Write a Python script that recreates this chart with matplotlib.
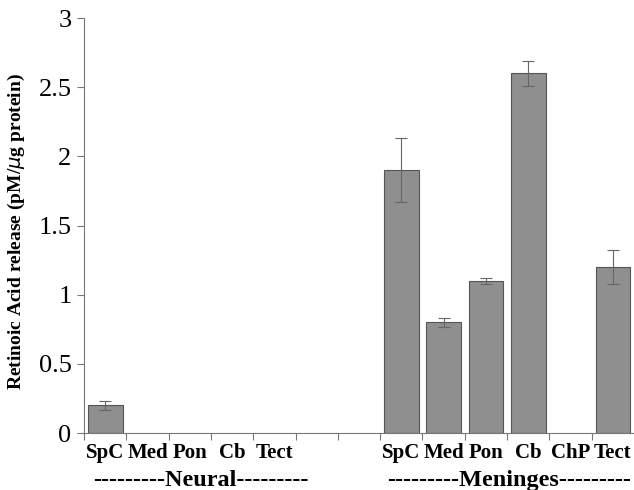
import numpy as np
import matplotlib.pyplot as plt
from matplotlib.transforms import blended_transform_factory

plt.rcParams['font.family'] = ['Liberation Serif', 'DejaVu Serif']

# slot positions 0..12 (5 and 6 are empty gap slots)
neural_cats = ['SpC', 'Med', 'Pon', 'Cb', 'Tect']
neural_vals = [0.2, 0, 0, 0, 0]
neural_err = [0.03, 0, 0, 0, 0]

men_cats = ['SpC', 'Med', 'Pon', 'Cb', 'ChP', 'Tect']
men_vals = [1.9, 0.8, 1.1, 2.6, 0, 1.2]
men_err = [0.23, 0.03, 0.02, 0.09, 0, 0.12]

neural_x = np.arange(len(neural_cats))
men_x = np.arange(len(men_cats)) + 7

fig = plt.figure(figsize=(6.34, 4.9), dpi=100)
ax = fig.add_axes([0.1325, 0.1163, 0.8675, 0.8467])

for xs, vals, errs in [(neural_x, neural_vals, neural_err), (men_x, men_vals, men_err)]:
    for x, v, e in zip(xs, vals, errs):
        if v == 0:
            continue
        ax.bar(x, v, width=0.82, color='#8f8f8f', edgecolor='#555555', linewidth=0.8)
        ax.errorbar(x, v, yerr=e, fmt='none', ecolor='#666666', elinewidth=0.8, capsize=4, capthick=0.8)

ax.set_xlim(-0.5, 12.5)
ax.set_ylim(0, 3)
ax.set_yticks([0, 0.5, 1, 1.5, 2, 2.5, 3])
ax.set_yticklabels(['0', '0.5', '1', '1.5', '2', '2.5', '3'])
ax.set_xticks(np.arange(-0.5, 12.5, 1))
ax.set_xticklabels([])
ax.tick_params(axis='y', labelsize=19, direction='out', length=5, color='#777777', pad=4)
ax.tick_params(axis='x', direction='out', length=5, color='#777777')
for s in ['top', 'right']:
    ax.spines[s].set_visible(False)
for s in ['left', 'bottom']:
    ax.spines[s].set_color('#777777')

ax.set_ylabel('Retinoic Acid release (pM/$\\mu$g protein)', fontsize=14, fontweight='bold')
ax.yaxis.set_label_coords(-0.103, 0.485)

tr = blended_transform_factory(ax.transData, fig.transFigure)
for x, c in zip(neural_x, neural_cats):
    ax.text(x, 0.076, c, ha='center', va='center', fontsize=15, fontweight='bold', transform=tr)
for x, c in zip(men_x, men_cats):
    ax.text(x, 0.076, c, ha='center', va='center', fontsize=15, fontweight='bold', transform=tr)

ax.text(2.27, 0.02, '---------Neural---------', ha='center', va='center', fontsize=17.5,
        fontweight='bold', transform=tr)
ax.text(9.55, 0.02, '---------Meninges---------', ha='center', va='center', fontsize=17.5,
        fontweight='bold', transform=tr)

fig.savefig('out.png', dpi=100)
